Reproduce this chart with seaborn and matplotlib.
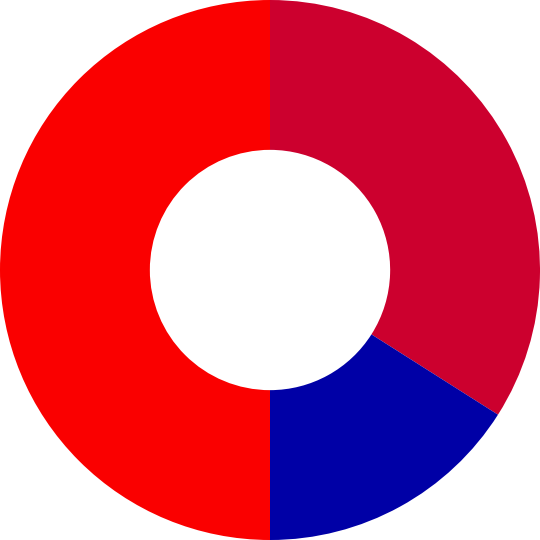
import matplotlib
matplotlib.use('Agg')
import matplotlib.pyplot as plt
import seaborn as sns

# slice data, clockwise from the top
labels = ['Crimson', 'Blue', 'Red']
values = [34, 16, 50]
colors = ['#CC002E', '#0000A6', '#FA0000']

sns.set_theme(style='white')

fig = plt.figure(figsize=(5.4, 5.4), dpi=100)
ax = fig.add_axes([0, 0, 1, 1])
ax.pie(values, colors=colors, startangle=90, counterclock=False,
       radius=1.0, wedgeprops=dict(width=0.555, linewidth=0))
ax.set_xlim(-1, 1)
ax.set_ylim(-1, 1)
ax.set_aspect('equal')
ax.axis('off')

fig.savefig('out.png', dpi=100, facecolor='white')
plt.close(fig)
